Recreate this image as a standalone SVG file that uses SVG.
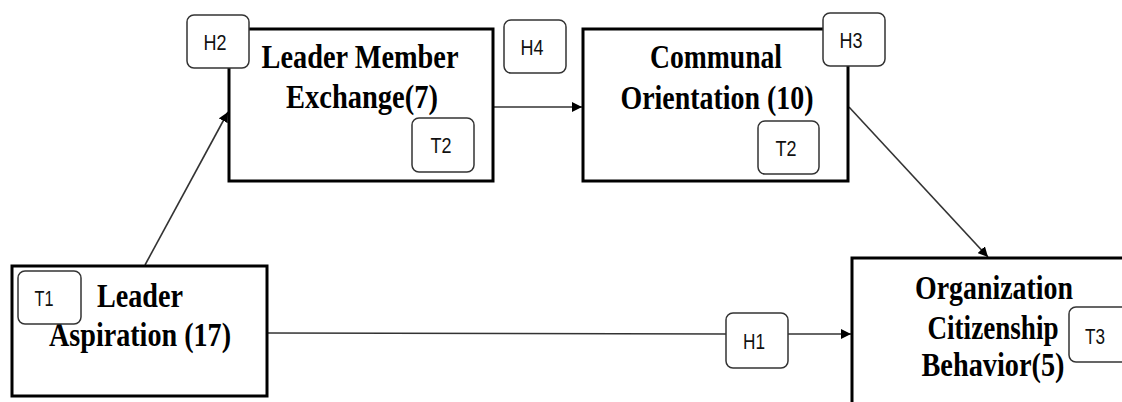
<svg xmlns="http://www.w3.org/2000/svg" width="1122" height="402" viewBox="0 0 1122 402">
<defs>
<style>
.box{fill:#fff;stroke:#000;stroke-width:3}
.tag{fill:#fff;stroke:#333;stroke-width:1.5}
.big{font-family:"Liberation Serif","Times New Roman",serif;font-weight:bold;font-size:33px;fill:#000;text-anchor:middle}
.sm{font-family:"Liberation Sans",Arial,sans-serif;font-size:22px;fill:#111;text-anchor:middle}
.con{stroke:#333;stroke-width:1.6;fill:none}
</style>
<marker id="ah" viewBox="0 0 10 10" refX="10" refY="5" markerWidth="10" markerHeight="10" markerUnits="userSpaceOnUse" orient="auto">
<path d="M0,0 L10,5 L0,10 z" fill="#000"/>
</marker>
</defs>
<rect width="1122" height="402" fill="#fff"/>
<g id="connectors">
<line class="con" x1="145" y1="265" x2="228" y2="112" marker-end="url(#ah)"/>
<line class="con" x1="494" y1="107" x2="582" y2="107" marker-end="url(#ah)"/>
<line class="con" x1="849" y1="107" x2="988" y2="257" marker-end="url(#ah)"/>
<line class="con" x1="268" y1="333" x2="726" y2="334"/>
<line class="con" x1="788" y1="334" x2="851" y2="334" marker-end="url(#ah)"/>
</g>
<g id="lmx">
<rect class="box" x="229" y="29" width="264" height="152"/>
<text class="big" x="360" y="68" textLength="197" lengthAdjust="spacingAndGlyphs">Leader Member</text>
<text class="big" x="362" y="108" textLength="152" lengthAdjust="spacingAndGlyphs">Exchange(7)</text>
</g>
<g id="co">
<rect class="box" x="583" y="29" width="265" height="152"/>
<text class="big" x="716" y="68" textLength="132" lengthAdjust="spacingAndGlyphs">Communal</text>
<text class="big" x="717" y="109" textLength="193" lengthAdjust="spacingAndGlyphs">Orientation (10)</text>
</g>
<g id="la">
<rect class="box" x="12" y="266" width="255" height="130"/>
<text class="big" x="140" y="307" textLength="86" lengthAdjust="spacingAndGlyphs">Leader</text>
<text class="big" x="140" y="346" textLength="182" lengthAdjust="spacingAndGlyphs">Aspiration (17)</text>
</g>
<g id="ocb">
<rect class="box" x="852" y="258" width="300" height="200"/>
<text class="big" x="994" y="299" textLength="158" lengthAdjust="spacingAndGlyphs">Organization</text>
<text class="big" x="993" y="339" textLength="131" lengthAdjust="spacingAndGlyphs">Citizenship</text>
<text class="big" x="993" y="376" textLength="143" lengthAdjust="spacingAndGlyphs">Behavior(5)</text>
</g>
<g id="h2">
<rect class="tag" x="187" y="15" width="62" height="53" rx="7"/>
<text class="sm" x="215" y="50" textLength="23" lengthAdjust="spacingAndGlyphs">H2</text>
</g>
<g id="h4">
<rect class="tag" x="504" y="20" width="62" height="53" rx="7"/>
<text class="sm" x="532" y="55" textLength="23" lengthAdjust="spacingAndGlyphs">H4</text>
</g>
<g id="h3">
<rect class="tag" x="823" y="13" width="62" height="53" rx="7"/>
<text class="sm" x="851" y="48" textLength="23" lengthAdjust="spacingAndGlyphs">H3</text>
</g>
<g id="t2a">
<rect class="tag" x="412" y="118" width="62" height="54" rx="7"/>
<text class="sm" x="441" y="153" textLength="21" lengthAdjust="spacingAndGlyphs">T2</text>
</g>
<g id="t2b">
<rect class="tag" x="758" y="121" width="61" height="53" rx="7"/>
<text class="sm" x="786" y="156" textLength="21" lengthAdjust="spacingAndGlyphs">T2</text>
</g>
<g id="t1">
<rect class="tag" x="18" y="271" width="63" height="53" rx="7"/>
<text class="sm" x="44" y="306" textLength="19" lengthAdjust="spacingAndGlyphs">T1</text>
</g>
<g id="h1">
<rect class="tag" x="726" y="313" width="62" height="55" rx="7"/>
<text class="sm" x="754" y="349" textLength="22" lengthAdjust="spacingAndGlyphs">H1</text>
</g>
<g id="t3">
<rect class="tag" x="1069" y="307" width="62" height="55" rx="7"/>
<text class="sm" x="1095" y="344" textLength="20" lengthAdjust="spacingAndGlyphs">T3</text>
</g>
</svg>
